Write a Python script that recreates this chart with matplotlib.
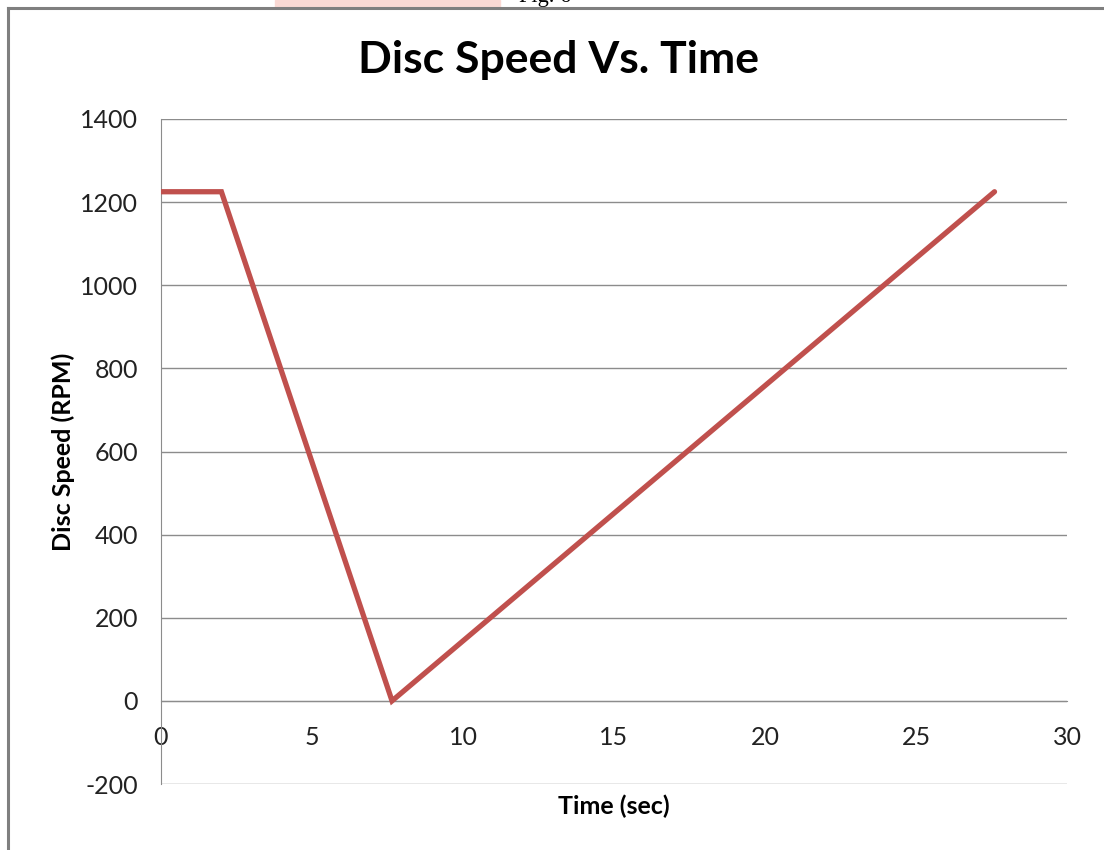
import matplotlib
matplotlib.use("Agg")
import matplotlib.pyplot as plt
from matplotlib.patches import Rectangle
from matplotlib.lines import Line2D

# Disc speed profile: hold, brake to stop, spin back up
time_sec = [0.0, 2.0, 7.65, 27.6]
speed_rpm = [1225, 1225, 0, 1225]

x_ticks = [0, 5, 10, 15, 20, 25, 30]
y_ticks = [-200, 0, 200, 400, 600, 800, 1000, 1200, 1400]

FONT = "Lato"
GRID = "#8c8c8c"
LINE = "#c0504d"

fig = plt.figure(figsize=(11.04, 8.5), dpi=100)
W, H = 1104, 850

ax = fig.add_axes([161 / W, 1 - 784 / H, (1067 - 161) / W, (784 - 119) / H])
ax.plot(time_sec, speed_rpm, color=LINE, lw=3.8, solid_capstyle="round",
        solid_joinstyle="miter", zorder=3)

ax.set_xlim(0, 30)
ax.set_ylim(-200, 1400)
ax.set_xticks(x_ticks)
ax.set_yticks(y_ticks)
ax.grid(axis="y", color=GRID, lw=1.0)
ax.grid(axis="x", visible=False)
for s in ["top", "right"]:
    ax.spines[s].set_visible(False)
ax.spines["left"].set_color(GRID)
ax.spines["bottom"].set_color(GRID)
ax.spines["bottom"].set_position(("data", 0))
ax.tick_params(length=0, colors="#222222", labelsize=18)
ax.tick_params(axis="y", pad=16.5)
ax.tick_params(axis="x", pad=18)
ax.set_xticklabels([str(v) for v in x_ticks])
ax.set_yticklabels([str(v) for v in y_ticks])
for lab in ax.get_xticklabels() + ax.get_yticklabels():
    lab.set_fontfamily(FONT)

ax.set_xlabel("Time (sec)", fontsize=18, fontweight="bold", family=FONT)
ax.xaxis.set_label_coords(0.5, -0.016)
ax.set_ylabel("Disc Speed (RPM)", fontsize=18, fontweight="bold", family=FONT)
ax.yaxis.set_label_coords(-0.095, 0.5)

fig.text(558 / W, 1 - 60 / H, "Disc Speed Vs. Time", ha="center", va="center",
         fontsize=32, fontweight="bold", family=FONT)

# surrounding chart frame and page fragments above it
fig.patches.append(Rectangle((275 / W, 1 - 7 / H), 225 / W, 7 / H,
                             transform=fig.transFigure, color="#fad9d4", zorder=0))
fig.text(545 / W, 1 + 2 / H, "Fig. 6", ha="center", va="center", fontsize=16,
         family="Liberation Serif")
fig.lines.append(Line2D([8 / W, 1], [1 - 8 / H, 1 - 8 / H], transform=fig.transFigure,
                        color="#7f7f7f", lw=2.2))
fig.lines.append(Line2D([8 / W, 8 / W], [0, 1 - 8 / H], transform=fig.transFigure,
                        color="#7f7f7f", lw=2.2))

fig.savefig("out.png", dpi=100)
